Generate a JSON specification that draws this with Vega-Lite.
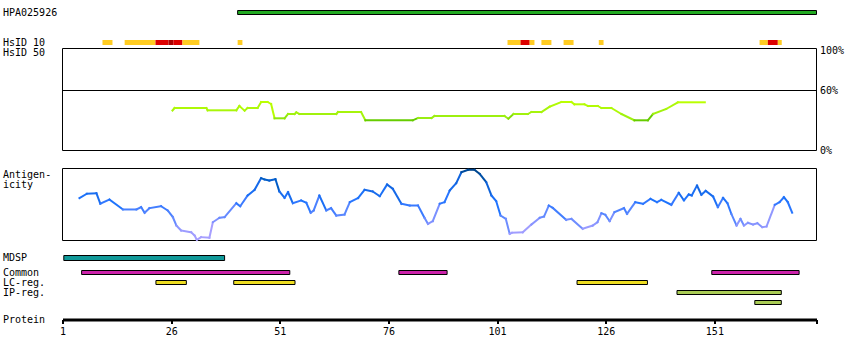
{
  "$schema": "https://vega.github.io/schema/vega-lite/v6.json",
  "width": 754,
  "height": 319.5,
  "autosize": {"type": "none"},
  "padding": {"left": 62.5, "top": 0, "right": 33.5, "bottom": 40.5},
  "background": "white",
  "config": {
    "view": {"stroke": null},
    "font": "DejaVu Sans Mono",
    "axis": {"grid": false, "labelFont": "DejaVu Sans Mono", "labelFontSize": 10, "labelColor": "#000000", "titleFont": "DejaVu Sans Mono", "titleFontSize": 10, "titleFontWeight": "normal", "titleColor": "#000000"},
    "axisY": {"domain": false, "ticks": false, "tickSize": 0, "labelAlign": "left", "labelBaseline": "middle", "labelPadding": 60, "labelOverlap": false, "labelBound": false}
  },
  "datasets": {
    "hpa": [{"track": "HPA025926", "start": 41.3, "end": 174.5}],
    "hsid10": [
      {"track": "HsID 10", "level": "low", "start": 10.2, "end": 12.5},
      {"track": "HsID 10", "level": "low", "start": 15.3, "end": 22.4},
      {"track": "HsID 10", "level": "mid", "start": 22.4, "end": 25.4},
      {"track": "HsID 10", "level": "high", "start": 25.4, "end": 26.5},
      {"track": "HsID 10", "level": "mid", "start": 26.5, "end": 28.6},
      {"track": "HsID 10", "level": "low", "start": 28.6, "end": 32.5},
      {"track": "HsID 10", "level": "low", "start": 41.3, "end": 42.4},
      {"track": "HsID 10", "level": "low", "start": 103.4, "end": 106.4},
      {"track": "HsID 10", "level": "mid", "start": 106.4, "end": 108.5},
      {"track": "HsID 10", "level": "low", "start": 108.5, "end": 109.6},
      {"track": "HsID 10", "level": "low", "start": 111.2, "end": 113.5},
      {"track": "HsID 10", "level": "low", "start": 116.3, "end": 118.6},
      {"track": "HsID 10", "level": "low", "start": 124.4, "end": 125.5},
      {"track": "HsID 10", "level": "low", "start": 161.4, "end": 163.3},
      {"track": "HsID 10", "level": "mid", "start": 163.3, "end": 165.6},
      {"track": "HsID 10", "level": "low", "start": 165.6, "end": 166.5}
    ],
    "hsid50": [
      {"r": 26.3, "v": 40.0}, {"r": 26.8, "v": 42.5}, {"r": 34.1, "v": 42.5}, {"r": 34.4, "v": 40.2},
      {"r": 41.0, "v": 40.2}, {"r": 41.7, "v": 44.5}, {"r": 42.9, "v": 39.8}, {"r": 43.6, "v": 42.5},
      {"r": 45.9, "v": 42.5}, {"r": 46.7, "v": 48.5}, {"r": 48.2, "v": 48.5}, {"r": 49.0, "v": 46.5},
      {"r": 49.8, "v": 32.2}, {"r": 52.1, "v": 32.2}, {"r": 52.9, "v": 36.5}, {"r": 54.4, "v": 36.5},
      {"r": 54.8, "v": 38.2}, {"r": 55.5, "v": 36.5}, {"r": 64.0, "v": 36.5}, {"r": 64.4, "v": 38.5},
      {"r": 69.7, "v": 38.5}, {"r": 70.7, "v": 30.2}, {"r": 81.6, "v": 30.2}, {"r": 82.8, "v": 32.5},
      {"r": 85.9, "v": 32.5}, {"r": 86.6, "v": 34.5}, {"r": 102.7, "v": 34.5}, {"r": 103.6, "v": 31.8},
      {"r": 104.8, "v": 36.5}, {"r": 108.1, "v": 36.5}, {"r": 108.9, "v": 38.5}, {"r": 111.2, "v": 38.5},
      {"r": 113.1, "v": 43.8}, {"r": 115.8, "v": 48.5}, {"r": 118.1, "v": 48.5}, {"r": 118.8, "v": 46.2},
      {"r": 121.1, "v": 46.2}, {"r": 121.9, "v": 44.5}, {"r": 124.2, "v": 44.5}, {"r": 125.0, "v": 42.5},
      {"r": 127.3, "v": 42.5}, {"r": 129.6, "v": 36.5}, {"r": 132.6, "v": 30.2}, {"r": 135.7, "v": 30.2},
      {"r": 136.9, "v": 36.5}, {"r": 139.9, "v": 41.5}, {"r": 142.6, "v": 48.2}, {"r": 148.8, "v": 48.2}
    ],
    "antigen": [
      {"r": 4.9, "v": 58.8}, {"r": 6.6, "v": 64.9}, {"r": 8.8, "v": 65.7}, {"r": 9.7, "v": 51.0},
      {"r": 11.8, "v": 56.9}, {"r": 14.9, "v": 43.1}, {"r": 18.0, "v": 43.1}, {"r": 19.1, "v": 46.3},
      {"r": 19.9, "v": 38.5}, {"r": 21.0, "v": 44.9}, {"r": 23.7, "v": 47.6}, {"r": 25.2, "v": 41.7},
      {"r": 26.4, "v": 32.4}, {"r": 27.2, "v": 20.8}, {"r": 28.3, "v": 13.9}, {"r": 30.6, "v": 11.5},
      {"r": 31.4, "v": 6.9}, {"r": 31.9, "v": 1.0}, {"r": 32.9, "v": 4.6}, {"r": 34.8, "v": 3.8},
      {"r": 35.6, "v": 25.4}, {"r": 37.1, "v": 31.5}, {"r": 38.3, "v": 32.4}, {"r": 41.0, "v": 51.8},
      {"r": 41.9, "v": 47.6}, {"r": 43.6, "v": 62.5}, {"r": 45.2, "v": 70.4}, {"r": 46.7, "v": 86.5},
      {"r": 47.5, "v": 84.7}, {"r": 48.6, "v": 83.3}, {"r": 50.0, "v": 85.1}, {"r": 50.9, "v": 68.1},
      {"r": 52.1, "v": 59.3}, {"r": 52.9, "v": 67.1}, {"r": 54.0, "v": 51.8}, {"r": 55.9, "v": 55.6},
      {"r": 57.1, "v": 52.4}, {"r": 58.1, "v": 38.5}, {"r": 58.8, "v": 41.7}, {"r": 60.1, "v": 62.5},
      {"r": 61.7, "v": 41.7}, {"r": 62.8, "v": 44.9}, {"r": 64.0, "v": 34.7}, {"r": 65.9, "v": 36.1},
      {"r": 67.1, "v": 53.2}, {"r": 69.0, "v": 58.8}, {"r": 70.5, "v": 70.4}, {"r": 72.4, "v": 68.1},
      {"r": 74.0, "v": 61.5}, {"r": 75.7, "v": 77.8}, {"r": 77.0, "v": 71.8}, {"r": 79.0, "v": 51.0},
      {"r": 80.9, "v": 48.6}, {"r": 82.8, "v": 48.6}, {"r": 84.3, "v": 31.5}, {"r": 85.1, "v": 23.2},
      {"r": 86.2, "v": 26.8}, {"r": 87.8, "v": 51.0}, {"r": 88.9, "v": 53.2}, {"r": 90.1, "v": 69.4},
      {"r": 91.6, "v": 79.6}, {"r": 92.8, "v": 94.9}, {"r": 94.3, "v": 98.2}, {"r": 95.8, "v": 98.2},
      {"r": 97.0, "v": 92.6}, {"r": 98.5, "v": 81.0}, {"r": 99.7, "v": 62.5}, {"r": 100.8, "v": 54.6},
      {"r": 101.8, "v": 34.7}, {"r": 103.0, "v": 30.1}, {"r": 103.9, "v": 9.3}, {"r": 104.4, "v": 10.7},
      {"r": 106.9, "v": 11.5}, {"r": 108.9, "v": 22.2}, {"r": 110.8, "v": 31.5}, {"r": 111.8, "v": 33.3},
      {"r": 112.9, "v": 48.6}, {"r": 113.8, "v": 45.4}, {"r": 116.9, "v": 28.7}, {"r": 118.1, "v": 30.1},
      {"r": 120.7, "v": 16.3}, {"r": 123.0, "v": 20.8}, {"r": 124.1, "v": 25.4}, {"r": 125.0, "v": 37.9},
      {"r": 125.9, "v": 35.7}, {"r": 126.9, "v": 26.8}, {"r": 128.0, "v": 39.3}, {"r": 130.2, "v": 44.9},
      {"r": 130.9, "v": 37.1}, {"r": 132.8, "v": 53.2}, {"r": 134.6, "v": 51.0}, {"r": 136.3, "v": 57.9},
      {"r": 137.8, "v": 53.2}, {"r": 138.8, "v": 56.5}, {"r": 141.1, "v": 49.6}, {"r": 142.8, "v": 66.3},
      {"r": 144.0, "v": 55.6}, {"r": 145.1, "v": 63.9}, {"r": 145.8, "v": 62.5}, {"r": 147.0, "v": 76.4},
      {"r": 148.0, "v": 63.5}, {"r": 149.0, "v": 69.0}, {"r": 150.7, "v": 61.1}, {"r": 151.8, "v": 46.3},
      {"r": 153.0, "v": 59.3}, {"r": 154.0, "v": 51.8}, {"r": 154.9, "v": 37.1}, {"r": 156.1, "v": 20.8},
      {"r": 157.0, "v": 30.1}, {"r": 157.8, "v": 20.8}, {"r": 158.7, "v": 24.6}, {"r": 159.9, "v": 22.2},
      {"r": 160.9, "v": 24.0}, {"r": 162.0, "v": 18.5}, {"r": 163.0, "v": 19.4}, {"r": 164.9, "v": 49.6},
      {"r": 166.0, "v": 53.2}, {"r": 167.0, "v": 60.1}, {"r": 167.9, "v": 53.2}, {"r": 168.9, "v": 38.5}
    ],
    "mdsp": [{"track": "MDSP", "start": 1.3, "end": 38.3}],
    "tracks": [
      {"row": "Common", "start": 5.4, "end": 53.3},
      {"row": "Common", "start": 78.4, "end": 89.5},
      {"row": "Common", "start": 150.4, "end": 170.5},
      {"row": "LC-reg.", "start": 22.5, "end": 29.5},
      {"row": "LC-reg.", "start": 40.4, "end": 54.5},
      {"row": "LC-reg.", "start": 119.4, "end": 135.6},
      {"row": "IP-reg.", "start": 142.4, "end": 166.4},
      {"row": "IP-reg.2", "start": 160.3, "end": 166.4}
    ]
  },
  "layer": [
    {
      "data": {"name": "hpa"},
      "mark": {"type": "rect", "fill": "#22aa22", "stroke": "#000000", "strokeWidth": 1},
      "encoding": {
        "x": {"field": "start", "type": "quantitative", "scale": {"domain": [1, 174.5], "nice": false, "zero": false}},
        "x2": {"field": "end"},
        "y": {"field": "track", "type": "nominal", "scale": {"domain": ["HPA025926"], "range": [10.5, 14.5], "paddingInner": 0, "paddingOuter": 0}, "axis": {"orient": "left", "title": null}}
      }
    },
    {
      "data": {"name": "hsid10"},
      "mark": {"type": "rect"},
      "encoding": {
        "x": {"field": "start", "type": "quantitative", "scale": {"domain": [1, 174.5], "nice": false, "zero": false}},
        "x2": {"field": "end"},
        "y": {"field": "track", "type": "nominal", "scale": {"domain": ["HsID 10", "HsID 50"], "range": [40, 55], "paddingInner": 0.5, "paddingOuter": 0}, "axis": {"orient": "left", "title": null}},
        "color": {"field": "level", "type": "nominal", "scale": {"domain": ["low", "mid", "high"], "range": ["#ffcc22", "#dd0000", "#aa0000"]}, "legend": null}
      }
    },
    {
      "layer": [
        {
          "data": {"values": [{}]},
          "mark": {"type": "rect", "fillOpacity": 0, "stroke": "#000000", "strokeWidth": 1},
          "encoding": {
            "x": {"datum": 1, "type": "quantitative", "scale": {"domain": [1, 174.5], "nice": false, "zero": false}},
            "x2": {"datum": 174.5},
            "y": {"datum": 0, "type": "quantitative", "scale": {"domain": [0, 102], "range": [150.5, 48.5], "nice": false, "zero": false}, "axis": {"orient": "right", "title": null, "values": [0, 60, 100], "labelExpr": "datum.value + '%'", "labelPadding": 3, "labelAlign": "left", "labelBaseline": "middle"}},
            "y2": {"datum": 102}
          }
        },
        {
          "data": {"values": [{}]},
          "mark": {"type": "rule", "color": "#000000", "strokeWidth": 1},
          "encoding": {
            "x": {"datum": 1, "type": "quantitative"},
            "x2": {"datum": 174.5},
            "y": {"datum": 60, "type": "quantitative"}
          }
        },
        {
          "data": {"name": "hsid50"},
          "transform": [
            {"window": [{"op": "lead", "field": "r", "as": "r2"}, {"op": "lead", "field": "v", "as": "v2"}], "sort": [{"field": "r", "order": "ascending"}]},
            {"filter": "isValid(datum.r2)"}
          ],
          "mark": {"type": "rule", "strokeWidth": 2, "strokeCap": "square"},
          "encoding": {
            "x": {"field": "r", "type": "quantitative"},
            "x2": {"field": "r2"},
            "y": {"field": "v", "type": "quantitative"},
            "y2": {"field": "v2"},
            "color": {"field": "v", "type": "quantitative", "scale": {"domain": [30, 31, 32.5, 48.5], "range": ["#66cc00", "#66cc00", "#99ee11", "#bbff00"]}, "legend": null}
          }
        }
      ]
    },
    {
      "layer": [
        {
          "data": {"values": [{}]},
          "mark": {"type": "rect", "fillOpacity": 0, "stroke": "#000000", "strokeWidth": 1},
          "encoding": {
            "x": {"datum": 1, "type": "quantitative", "scale": {"domain": [1, 174.5], "nice": false, "zero": false}},
            "x2": {"datum": 174.5},
            "y": {"datum": 0, "type": "quantitative", "scale": {"domain": [0, 100], "range": [240.5, 168.5], "nice": false, "zero": false}, "axis": {"orient": "left", "labels": false, "title": ["Antigen-", "icity"], "titleAngle": 0, "titleAlign": "left", "titleBaseline": "top", "titleX": -60, "titleY": 169, "titleLineHeight": 10}},
            "y2": {"datum": 100}
          }
        },
        {
          "data": {"name": "antigen"},
          "transform": [
            {"window": [{"op": "lead", "field": "r", "as": "r2"}, {"op": "lead", "field": "v", "as": "v2"}], "sort": [{"field": "r", "order": "ascending"}]},
            {"filter": "isValid(datum.r2)"}
          ],
          "mark": {"type": "rule", "strokeWidth": 2, "strokeCap": "square"},
          "encoding": {
            "x": {"field": "r", "type": "quantitative"},
            "x2": {"field": "r2"},
            "y": {"field": "v", "type": "quantitative"},
            "y2": {"field": "v2"},
            "color": {"field": "v", "type": "quantitative", "scale": {"domain": [0, 15, 35, 55, 80, 100], "range": ["#aaa0ff", "#9c9cff", "#5a88ff", "#1f74ff", "#1164dd", "#004488"]}, "legend": null}
          }
        }
      ]
    },
    {
      "data": {"name": "mdsp"},
      "mark": {"type": "rect", "fill": "#119999", "stroke": "#000000", "strokeWidth": 1},
      "encoding": {
        "x": {"field": "start", "type": "quantitative", "scale": {"domain": [1, 174.5], "nice": false, "zero": false}},
        "x2": {"field": "end"},
        "y": {"field": "track", "type": "nominal", "scale": {"domain": ["MDSP"], "range": [255.5, 260.5], "paddingInner": 0, "paddingOuter": 0}, "axis": {"orient": "left", "title": null}}
      }
    },
    {
      "data": {"name": "tracks"},
      "mark": {"type": "rect", "stroke": "#000000", "strokeWidth": 1},
      "encoding": {
        "x": {"field": "start", "type": "quantitative", "scale": {"domain": [1, 174.5], "nice": false, "zero": false},
          "axis": {"orient": "bottom", "values": [1, 26, 51, 76, 101, 126, 151, 174.5], "labelExpr": "datum.value > 170 ? '' : datum.label", "format": "d", "domain": true, "domainWidth": 3, "domainColor": "#000000", "ticks": true, "tickSize": 4, "tickWidth": 2, "tickColor": "#000000", "labelPadding": 3, "labelFlush": false, "labelOverlap": false, "labelBound": false, "labelAlign": "center", "labelBaseline": "top", "title": "Protein", "titleAngle": 0, "titleAlign": "left", "titleBaseline": "middle", "titleX": -60, "titleY": 0}},
        "x2": {"field": "end"},
        "y": {"field": "row", "type": "nominal", "scale": {"domain": ["Common", "LC-reg.", "IP-reg.", "IP-reg.2"], "range": [270.5, 304.5], "paddingInner": 0.6, "paddingOuter": 0}, "axis": {"orient": "left", "title": null, "labelExpr": "datum.value == 'IP-reg.2' ? '' : datum.label"}},
        "fill": {"field": "row", "type": "nominal", "scale": {"domain": ["Common", "LC-reg.", "IP-reg.", "IP-reg.2"], "range": ["#cc22aa", "#eedd22", "#aacc55", "#aacc55"]}, "legend": null}
      }
    }
  ],
  "resolve": {"scale": {"y": "independent", "color": "independent", "fill": "independent"}}
}
